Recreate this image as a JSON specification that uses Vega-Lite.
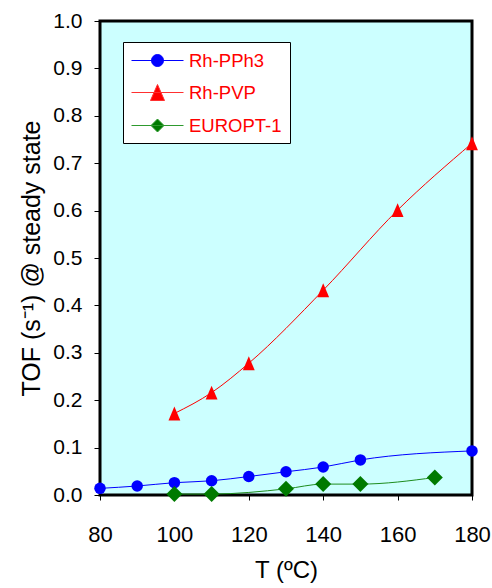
{
  "$schema": "https://vega.github.io/schema/vega-lite/v6.json",
  "width": 372,
  "height": 474,
  "autosize": "none",
  "padding": {"left": 100, "top": 21, "right": 20, "bottom": 93},
  "background": "white",
  "config": {
    "font": "Liberation Sans",
    "view": {"fill": "#CCFFFF", "stroke": "black", "strokeWidth": 3},
    "axis": {
      "domain": false,
      "grid": false,
      "tickColor": "black",
      "tickWidth": 1,
      "labelColor": "black",
      "titleColor": "black",
      "labelFont": "Liberation Sans",
      "titleFont": "Liberation Sans",
      "titleFontWeight": "normal",
      "labelFlush": false,
      "labelOverlap": false
    },
    "legend": {
      "orient": "none",
      "legendX": 23,
      "legendY": 21,
      "padding": 8,
      "strokeColor": "black",
      "fillColor": "white",
      "symbolSize": 400,
      "symbolStrokeWidth": 1,
      "symbolOpacity": 1,
      "labelColor": "#FF0000",
      "labelFontSize": 18.5,
      "labelFont": "Liberation Sans",
      "labelOffset": 37,
      "labelLimit": 300,
      "rowPadding": 12
    }
  },
  "data": {
    "values": [
      {"series": "Rh-PPh3", "T": 80, "TOF": 0.014},
      {"series": "Rh-PPh3", "T": 90, "TOF": 0.019},
      {"series": "Rh-PPh3", "T": 100, "TOF": 0.026},
      {"series": "Rh-PPh3", "T": 110, "TOF": 0.030},
      {"series": "Rh-PPh3", "T": 120, "TOF": 0.039},
      {"series": "Rh-PPh3", "T": 130, "TOF": 0.049},
      {"series": "Rh-PPh3", "T": 140, "TOF": 0.059},
      {"series": "Rh-PPh3", "T": 150, "TOF": 0.074},
      {"series": "Rh-PPh3", "T": 180, "TOF": 0.093},
      {"series": "Rh-PVP", "T": 100, "TOF": 0.172},
      {"series": "Rh-PVP", "T": 110, "TOF": 0.216},
      {"series": "Rh-PVP", "T": 120, "TOF": 0.278},
      {"series": "Rh-PVP", "T": 140, "TOF": 0.432},
      {"series": "Rh-PVP", "T": 160, "TOF": 0.601},
      {"series": "Rh-PVP", "T": 180, "TOF": 0.742},
      {"series": "EUROPT-1", "T": 100, "TOF": 0.002},
      {"series": "EUROPT-1", "T": 110, "TOF": 0.002},
      {"series": "EUROPT-1", "T": 130, "TOF": 0.013},
      {"series": "EUROPT-1", "T": 140, "TOF": 0.023},
      {"series": "EUROPT-1", "T": 150, "TOF": 0.023},
      {"series": "EUROPT-1", "T": 170, "TOF": 0.037}
    ]
  },
  "encoding": {
    "x": {
      "field": "T",
      "type": "quantitative",
      "scale": {"domain": [80, 180], "nice": false, "zero": false},
      "axis": {
        "values": [80, 100, 120, 140, 160, 180],
        "labelFontSize": 22,
        "tickSize": 5,
        "labelPadding": 24,
        "title": "T (ºC)",
        "titleFontSize": 24,
        "titlePadding": 13
      }
    },
    "y": {
      "field": "TOF",
      "type": "quantitative",
      "scale": {"domain": [0, 1], "nice": false},
      "axis": {
        "values": [0, 0.1, 0.2, 0.3, 0.4, 0.5, 0.6, 0.7, 0.8, 0.9, 1.0],
        "format": ".1f",
        "labelFontSize": 21,
        "tickSize": 6,
        "labelPadding": 12,
        "title": "TOF (s⁻¹) @ steady state",
        "titleFontSize": 25,
        "titlePadding": 8
      }
    }
  },
  "layer": [
    {
      "mark": {"type": "line", "interpolate": "monotone", "strokeWidth": 1, "clip": false},
      "encoding": {
        "color": {
          "field": "series",
          "type": "nominal",
          "scale": {"domain": ["Rh-PPh3", "Rh-PVP", "EUROPT-1"], "range": ["#0000FF", "#FF0000", "#1E8C1E"]},
          "legend": null
        }
      }
    },
    {
      "mark": {"type": "point", "filled": true, "opacity": 1, "clip": false},
      "encoding": {
        "color": {
          "field": "series",
          "type": "nominal",
          "scale": {"domain": ["Rh-PPh3", "Rh-PVP", "EUROPT-1"], "range": ["#0000FF", "#FF0000", "#007A00"]},
          "legend": null
        },
        "shape": {
          "field": "series",
          "type": "nominal",
          "scale": {"domain": ["Rh-PPh3", "Rh-PVP", "EUROPT-1"], "range": ["circle", "M0,-1L-0.85,1L0.85,1Z", "diamond"]},
          "legend": null
        },
        "size": {
          "field": "series",
          "type": "nominal",
          "scale": {"domain": ["Rh-PPh3", "Rh-PVP", "EUROPT-1"], "range": [132, 256, 169]},
          "legend": null
        }
      }
    },
    {
      "mark": {"type": "point", "filled": true, "opacity": 0, "clip": false},
      "encoding": {
        "fill": {
          "field": "series",
          "type": "nominal",
          "scale": {"domain": ["Rh-PPh3", "Rh-PVP", "EUROPT-1"], "range": ["#0000FF", "#FF0000", "#007A00"]},
          "legend": {"title": null, "labelFontSize": 18.5, "labelColor": "#FF0000", "symbolOpacity": 1}
        },
        "stroke": {
          "field": "series",
          "type": "nominal",
          "scale": {"domain": ["Rh-PPh3", "Rh-PVP", "EUROPT-1"], "range": ["#0000FF", "#FF3030", "#2E9A2E"]},
          "legend": {"title": null, "labelFontSize": 18.5, "labelColor": "#FF0000", "symbolOpacity": 1}
        },
        "shape": {
          "field": "series",
          "type": "nominal",
          "scale": {
            "domain": ["Rh-PPh3", "Rh-PVP", "EUROPT-1"],
            "range": [
              "M-1,0H4.2M2.2,0A0.6,0.6 0 1 1 1,0A0.6,0.6 0 1 1 2.2,0Z",
              "M-1,0H4.2M1.6,-0.8L0.9,0.8L2.3,0.8Z",
              "M-1,0H4.2M1.6,-0.65L2.25,0L1.6,0.65L0.95,0Z"
            ]
          },
          "legend": {"title": null, "labelFontSize": 18.5, "labelColor": "#FF0000", "symbolOpacity": 1}
        }
      }
    }
  ],
  "resolve": {
    "scale": {"color": "independent", "shape": "independent", "size": "independent", "fill": "independent", "stroke": "independent"}
  }
}
